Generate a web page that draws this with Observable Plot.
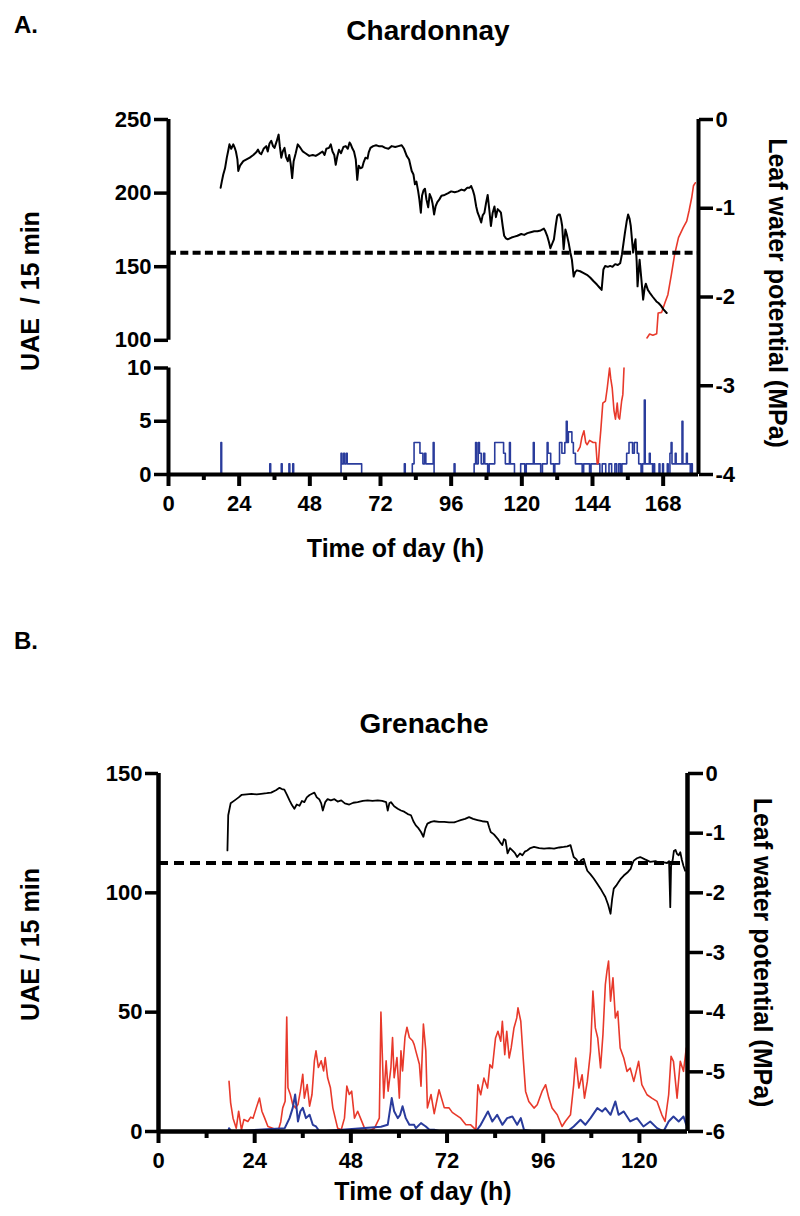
<!DOCTYPE html>
<html><head><meta charset="utf-8">
<script src="https://cdn.jsdelivr.net/npm/d3@7"></script>
<script src="https://cdn.jsdelivr.net/npm/@observablehq/plot@0.6"></script>
<style>
body{margin:0;background:#fff;}
#wrap{position:relative;width:800px;height:1216px;font-family:"Liberation Sans",Arial,sans-serif;font-weight:bold;color:#000;}
.lbl{position:absolute;white-space:nowrap;line-height:normal;}
</style></head><body><div id="wrap">
<div id="pa" style="position:absolute;left:0;top:0"></div>
<div id="pb" style="position:absolute;left:0;top:600px"></div>
<div class="lbl" style="left:14px;top:11px;font-size:24px">A.</div>
<div class="lbl" style="left:428px;top:15px;font-size:28px;transform:translateX(-50%)">Chardonnay</div>
<div class="lbl" style="left:14px;top:627px;font-size:24px">B.</div>
<div class="lbl" style="left:424px;top:708px;font-size:28px;transform:translateX(-50%)">Grenache</div>
</div>
<script>
// ---------- Panel A: Chardonnay ----------
const chardXMajor = [0, 24, 48, 72, 96, 120, 144, 168];
const chardXMinor = [12, 36, 60, 84, 108, 132, 156];
const chardLeftTop = [100, 150, 200, 250];
const chardLeftBottom = [0, 5, 10];
const chardRight = [0, -1, -2, -3, -4];
const chardThreshold = -1.5;
// leaf water potential (MPa), [h, value]
const chardLwp = [[17.7,-0.77],[18.1,-0.70],[18.6,-0.62],[19.2,-0.55],[19.8,-0.43],[20.3,-0.35],[20.7,-0.28],[21.3,-0.33],[22.0,-0.28],[22.5,-0.32],[22.9,-0.36],[23.4,-0.45],[23.7,-0.58],[24.3,-0.52],[25.4,-0.47],[26.5,-0.45],[27.6,-0.43],[28.8,-0.40],[29.8,-0.37],[30.4,-0.34],[31.0,-0.38],[31.5,-0.39],[32.3,-0.33],[33.2,-0.30],[33.7,-0.36],[34.3,-0.27],[34.9,-0.24],[35.5,-0.30],[36.0,-0.32],[36.7,-0.25],[37.4,-0.17],[37.8,-0.30],[38.3,-0.43],[38.8,-0.36],[39.4,-0.32],[39.9,-0.42],[40.5,-0.47],[41.0,-0.40],[41.5,-0.50],[42.0,-0.66],[42.5,-0.47],[43.2,-0.38],[43.9,-0.28],[44.6,-0.31],[45.6,-0.36],[46.5,-0.38],[47.8,-0.41],[49.0,-0.40],[50.0,-0.41],[51.0,-0.39],[52.3,-0.36],[53.0,-0.40],[53.6,-0.33],[54.5,-0.32],[55.1,-0.28],[55.7,-0.36],[56.3,-0.40],[56.8,-0.51],[57.3,-0.42],[57.9,-0.34],[58.6,-0.38],[59.4,-0.31],[60.2,-0.30],[60.9,-0.33],[61.5,-0.26],[61.9,-0.28],[62.5,-0.33],[63.0,-0.36],[63.6,-0.45],[64.1,-0.68],[64.6,-0.52],[65.2,-0.55],[65.8,-0.54],[66.3,-0.48],[66.9,-0.43],[67.6,-0.44],[68.0,-0.37],[68.6,-0.32],[69.5,-0.30],[70.5,-0.29],[71.4,-0.30],[72.5,-0.30],[73.6,-0.32],[74.7,-0.33],[75.8,-0.30],[77.0,-0.31],[78.1,-0.30],[79.2,-0.29],[80.0,-0.33],[80.9,-0.41],[81.7,-0.45],[82.6,-0.58],[83.2,-0.62],[83.7,-0.73],[84.2,-0.70],[84.8,-0.81],[85.2,-0.90],[85.7,-1.05],[86.1,-0.86],[86.6,-0.80],[87.1,-0.78],[87.6,-0.90],[88.2,-0.99],[88.7,-0.84],[89.3,-0.89],[89.7,-0.95],[90.2,-1.07],[90.7,-0.98],[91.3,-0.93],[92.0,-0.90],[92.7,-0.86],[93.8,-0.85],[95.0,-0.83],[96.0,-0.81],[97.2,-0.82],[98.3,-0.81],[99.5,-0.79],[100.5,-0.80],[101.4,-0.77],[102.2,-0.77],[102.8,-0.75],[103.4,-0.80],[103.9,-0.86],[104.5,-0.98],[105.0,-1.05],[105.6,-1.10],[106.2,-1.16],[106.7,-1.08],[107.3,-1.05],[107.8,-0.95],[108.4,-0.85],[108.9,-1.00],[109.5,-1.20],[110.1,-1.05],[110.7,-0.98],[111.2,-1.10],[111.8,-1.01],[112.4,-1.03],[112.9,-1.05],[113.5,-1.20],[114.0,-1.31],[114.6,-1.34],[115.2,-1.35],[116.5,-1.33],[117.5,-1.32],[118.5,-1.31],[119.8,-1.29],[120.8,-1.30],[121.9,-1.28],[123.0,-1.27],[124.2,-1.26],[125.3,-1.26],[126.4,-1.25],[127.5,-1.23],[128.0,-1.26],[128.6,-1.31],[129.2,-1.38],[129.7,-1.45],[130.3,-1.40],[130.9,-1.35],[131.5,-1.20],[132.0,-1.09],[132.5,-1.07],[132.9,-1.07],[133.3,-1.12],[133.7,-1.20],[134.2,-1.46],[134.8,-1.24],[135.3,-1.30],[135.9,-1.39],[136.5,-1.50],[137.0,-1.58],[137.6,-1.77],[138.1,-1.72],[138.7,-1.70],[139.8,-1.71],[141.0,-1.73],[142.1,-1.75],[143.2,-1.78],[144.3,-1.82],[145.5,-1.86],[146.3,-1.89],[147.1,-1.92],[147.7,-1.69],[148.3,-1.65],[149.2,-1.66],[150.0,-1.65],[150.8,-1.66],[151.7,-1.63],[152.6,-1.64],[153.4,-1.62],[154.0,-1.52],[154.5,-1.40],[155.0,-1.28],[155.6,-1.15],[156.1,-1.07],[156.6,-1.12],[157.0,-1.20],[157.4,-1.35],[157.8,-1.50],[158.2,-1.42],[158.6,-1.35],[159.0,-1.60],[159.3,-1.88],[159.7,-1.70],[160.0,-1.58],[160.6,-1.80],[161.2,-2.03],[161.7,-1.90],[162.1,-1.85],[162.8,-1.92],[163.4,-1.95],[164.5,-2.00],[165.7,-2.05],[166.5,-2.07],[167.3,-2.10],[168.1,-2.14],[169.2,-2.18]];
// UAE / 15 min (red), gap where it runs through the axis break
const chardRed = [[139.0,2.2],[139.8,2.6],[140.4,3.5],[141.1,4.1],[141.7,3.0],[142.2,2.8],[143.0,3.2],[144.2,3.0],[145.1,3.0],[145.6,1.0],[146.0,1.1],[146.4,2.8],[146.8,4.1],[147.5,6.7],[148.4,6.9],[149.0,8.1],[149.8,10],[150.2,9.0],[150.7,8.1],[151.3,6.0],[151.8,5.2],[152.4,6.7],[152.8,5.4],[153.2,5.2],[153.9,6.9],[154.3,7.5],[154.7,10],[158.0,NaN],[162.5,101.6],[163.4,104.3],[164.5,103.5],[165.8,104.5],[166.3,118.6],[167.5,119.0],[168.6,125.5],[169.6,131.0],[170.8,144.8],[171.9,158.4],[173.2,169.8],[174.8,176.6],[176.0,181.0],[176.8,188.0],[177.7,197.0],[178.3,205.0],[178.9,207.0]];
// UAE / 15 min (blue), step data
const chardBlue = [[17.6,0],[17.8,3],[18.05,0],[34.4,1],[34.7,0],[38.3,1],[38.6,0],[40.9,1],[41.2,0],[42.2,1],[42.5,0],[58.6,2],[58.9,1],[59.5,2],[59.8,1],[60.4,2],[60.7,1],[65.6,0],[80.1,1],[80.4,0],[82.8,1],[83.4,3],[85.4,2],[86.4,1],[87.0,2],[87.4,1],[89.9,3],[90.2,0],[97.0,1],[97.3,0],[103.8,1],[104.3,3],[104.6,1],[105.2,3],[105.6,2],[106.2,1],[107.0,2],[107.4,1],[108.4,0],[108.9,1],[110.8,3],[113.8,2],[114.4,1],[115.8,3],[116.1,1],[117.5,0],[119.6,1],[121.0,0],[121.5,1],[123.9,3],[124.2,1],[126.4,0],[127.0,1],[128.6,3],[128.9,2],[129.8,1],[130.8,0],[131.2,1],[132.8,3],[133.6,2],[134.6,3],[135.1,5],[135.4,3],[135.8,4],[136.4,4],[137.0,3],[137.5,2],[138.2,1],[140.5,0],[141.0,1],[143.0,0],[143.5,1],[146.5,0],[147.3,1],[148.5,0],[149.6,1],[150.5,0],[151.6,1],[152.2,0],[152.9,1],[153.5,0],[154.0,1],[155.6,2],[156.4,3],[157.6,2],[158.2,3],[159.2,2],[159.7,1],[160.5,0],[161.0,1],[161.6,7],[161.9,1],[163.3,2],[163.6,1],[164.4,0],[164.8,1],[165.1,0],[166.6,1],[166.9,0],[167.8,1],[168.1,0],[169.4,1],[169.7,0],[170.3,2],[170.7,3],[171.0,1],[172.1,2],[172.4,1],[174.4,5],[174.7,1],[175.9,2],[176.2,1],[177.2,0],[177.6,1],[177.9,0]];

// ---------- Panel B: Grenache ----------
const grenXMajor = [0, 24, 48, 72, 96, 120];
const grenXMinor = [12, 36, 60, 84, 108];
const grenLeft = [0, 50, 100, 150];
const grenRight = [0, -1, -2, -3, -4, -5, -6];
const grenThreshold = -1.5;
const grenLwp = [[17.2,-1.29],[17.4,-0.70],[18.0,-0.50],[19.0,-0.45],[20.0,-0.40],[20.7,-0.36],[22.0,-0.35],[23.2,-0.34],[24.5,-0.35],[25.6,-0.34],[27.0,-0.33],[28.1,-0.32],[29.3,-0.28],[30.2,-0.24],[30.8,-0.26],[31.4,-0.27],[32.0,-0.35],[32.7,-0.45],[33.3,-0.53],[33.9,-0.59],[34.5,-0.52],[35.2,-0.54],[35.8,-0.46],[36.4,-0.48],[37.0,-0.40],[37.7,-0.36],[38.3,-0.34],[38.9,-0.32],[39.5,-0.40],[40.1,-0.43],[40.6,-0.50],[41.0,-0.62],[41.6,-0.48],[42.2,-0.43],[43.0,-0.45],[43.9,-0.43],[44.7,-0.47],[45.6,-0.45],[46.5,-0.50],[47.6,-0.52],[48.6,-0.49],[49.7,-0.48],[51.0,-0.46],[52.2,-0.45],[53.4,-0.46],[54.7,-0.45],[55.8,-0.46],[56.8,-0.48],[57.2,-0.62],[57.6,-0.50],[58.0,-0.48],[58.8,-0.55],[59.7,-0.59],[60.5,-0.62],[61.3,-0.64],[62.2,-0.68],[63.0,-0.70],[63.6,-0.80],[64.2,-0.87],[64.9,-0.92],[65.5,-0.98],[66.1,-1.06],[66.6,-0.92],[67.1,-0.84],[68.0,-0.81],[68.8,-0.80],[70.0,-0.81],[71.3,-0.81],[72.5,-0.82],[73.8,-0.82],[74.6,-0.80],[75.4,-0.78],[76.5,-0.76],[77.5,-0.73],[78.5,-0.76],[79.6,-0.78],[80.8,-0.80],[82.1,-0.81],[82.5,-0.90],[82.9,-0.98],[83.7,-1.02],[84.6,-1.09],[85.2,-1.15],[85.8,-1.20],[86.2,-1.10],[86.6,-1.12],[87.1,-1.34],[87.7,-1.25],[88.3,-1.29],[88.9,-1.33],[89.5,-1.40],[90.2,-1.34],[90.8,-1.37],[91.4,-1.31],[92.0,-1.29],[92.8,-1.25],[93.7,-1.23],[95.0,-1.25],[96.2,-1.26],[97.5,-1.25],[98.7,-1.26],[100.0,-1.24],[101.1,-1.23],[102.0,-1.22],[102.8,-1.20],[103.2,-1.30],[103.6,-1.40],[104.3,-1.44],[104.9,-1.51],[105.5,-1.45],[106.1,-1.43],[106.6,-1.55],[107.0,-1.63],[107.8,-1.69],[108.6,-1.76],[109.4,-1.84],[110.3,-1.93],[110.9,-2.00],[111.5,-2.07],[112.2,-2.20],[112.8,-2.35],[113.2,-2.10],[113.6,-1.93],[114.2,-1.88],[114.8,-1.82],[115.4,-1.76],[116.1,-1.71],[117.0,-1.66],[117.8,-1.60],[118.2,-1.52],[118.6,-1.46],[119.4,-1.42],[120.2,-1.40],[121.4,-1.44],[122.7,-1.48],[124.0,-1.47],[125.2,-1.50],[126.1,-1.49],[126.9,-1.50],[127.4,-1.47],[127.7,-2.24],[127.9,-1.55],[128.3,-1.45],[128.6,-1.30],[129.0,-1.28],[129.4,-1.35],[129.8,-1.37],[130.2,-1.32],[130.6,-1.45],[131.0,-1.55],[131.4,-1.63]];
const grenRed = [[17.6,21],[18.0,12],[18.6,5.6],[19.4,1.4],[20.0,8.5],[20.7,0.7],[21.3,5],[22.3,4.2],[23.0,6],[23.6,5.6],[24.4,9.9],[25.2,14],[25.8,8.5],[26.5,5.6],[27.3,2.1],[28.5,1.4],[29.8,0],[30.5,4],[31.0,9.9],[31.6,12.7],[32.0,48],[32.3,18.3],[32.9,15.5],[33.5,11.3],[34.2,9.9],[34.8,11.3],[35.4,16.9],[36.0,24],[36.4,14],[37.1,19.7],[37.7,10.6],[38.3,15.5],[38.9,29.6],[39.3,33.8],[39.9,26.8],[40.6,29.6],[41.2,25.4],[41.6,31],[42.2,22.5],[42.9,18.3],[43.5,9.9],[44.1,5.6],[44.7,1.4],[45.6,0.7],[46.4,5.6],[47.0,19],[47.6,15.5],[48.2,16.9],[48.9,5.6],[49.7,8.5],[50.4,5.6],[51.4,1.4],[52.2,0],[53.9,1.4],[55.1,5.6],[55.5,50],[56.2,14],[56.8,29.6],[57.3,16.9],[58.0,26.8],[58.4,39.4],[58.8,22.5],[59.5,31],[60.1,14],[60.5,33.8],[60.9,25.4],[61.5,39.4],[62.0,43.7],[62.6,39.4],[63.4,38],[63.8,36.4],[64.2,33.8],[65.1,28.2],[65.5,19],[66.1,45],[66.7,33.8],[67.1,9.9],[68.0,15.5],[68.8,7.5],[70.0,17.5],[71.3,10],[72.5,9.9],[73.3,8],[74.2,7],[75.4,5.6],[76.7,2.8],[77.9,2.8],[79.2,0.7],[79.7,19.6],[80.4,15.4],[81.2,22.4],[82.1,18.2],[82.7,28],[83.3,26.6],[84.1,39.2],[84.7,42],[85.4,37.8],[85.8,46.2],[86.4,32.2],[86.9,42],[87.5,30.8],[88.0,35],[88.7,43.4],[89.4,47.6],[89.7,51.8],[90.4,46.2],[91.0,30.8],[91.6,16.8],[92.4,12.6],[93.7,9.8],[94.5,11.2],[95.7,16.8],[96.6,19.6],[97.4,14],[98.2,9.8],[99.5,7],[100.7,2.1],[101.5,4.2],[102.8,7],[103.6,19.6],[104.1,30.8],[104.9,18.2],[105.7,23.8],[106.3,14],[107.0,21],[107.8,33.6],[108.4,58.8],[109.0,43.4],[109.6,39.2],[110.3,26.6],[110.9,40.6],[111.5,61.6],[111.9,67.2],[112.3,71.4],[112.8,54.6],[113.4,64.4],[114.0,47.6],[114.6,50.4],[115.2,35],[116.1,30.8],[116.9,25.2],[117.7,26.6],[118.6,21],[119.8,29.4],[120.6,19.6],[121.9,15.4],[123.1,14],[124.4,12.6],[125.6,7],[126.4,4.2],[127.3,15.4],[127.9,31.5],[128.5,29.4],[129.4,14],[130.2,29.4],[131.0,25.2],[131.7,35]];
const grenBlue = [[17.4,0],[17.6,1.4],[18.2,0],[31.5,1.4],[32.7,5.6],[33.5,9.9],[34.1,15.5],[34.8,4.2],[35.4,8.5],[36.0,9.9],[36.8,5.6],[37.7,7],[38.5,2.8],[39.3,2.1],[40.2,0],[55.5,2],[57.2,2.8],[58.2,14],[58.8,8.5],[59.7,5.6],[60.3,7],[60.9,10.6],[61.7,5.6],[62.6,2.8],[63.8,2.8],[64.2,1.4],[65.5,3.5],[66.7,2.1],[67.6,0.7],[68.8,0.7],[70.5,0],[79.2,0],[80.4,2.8],[82.2,8.4],[83.3,4.2],[84.5,7],[85.8,2.8],[87.0,5.6],[88.3,6.3],[89.5,2.8],[90.4,5.6],[91.2,0.7],[93.7,0],[102.0,0],[103.6,2.1],[105.3,4.9],[106.5,2.8],[107.8,5.6],[109.5,9.8],[110.7,8.4],[111.5,9.8],[112.8,7],[114.0,12.6],[114.8,7],[116.1,8.4],[117.7,4.2],[119.4,5.6],[121.0,2.1],[122.7,4.2],[124.4,1.4],[126.0,0],[127.3,4.2],[128.5,6.3],[129.8,4.2],[131.0,6.3],[131.7,2.8]];

const xTitle = "Time of day (h)";
const yTitleA = "UAE\u00a0 / 15 min";
const yTitleB = "UAE / 15 min";
const y2Title = "Leaf water potential (MPa)";

// ---------- rendering ----------
const RED = "#e8392b", BLUE = "#2a3c9c";
const FONT = "'Liberation Sans', Arial, sans-serif";
const fmt = d => String(d);
const hx = d => d[0], hv = d => d[1];

// Panel A: y scale in MPa; UAE mapped through a broken (piecewise) axis
const lwpA = [d3.min(chardRight), d3.max(chardRight)];
const breakFrac = [0, 0.30, 0.378, 1];
const uaeBreaks = [d3.min(chardLeftBottom), d3.max(chardLeftBottom), d3.min(chardLeftTop), d3.max(chardLeftTop)];
const uaeA = d3.scaleLinear().domain(uaeBreaks).range(breakFrac.map(f => lwpA[0] + f * (lwpA[1] - lwpA[0])));
const xDomA = [0, 180];
const leftSegA = [chardLeftTop, chardLeftBottom].map(t => ({lo: d3.min(t), hi: d3.max(t)}));

const plotA = Plot.plot({
  width: 800, height: 600,
  marginTop: 119, marginBottom: 126, marginLeft: 168, marginRight: 102,
  x: {domain: xDomA, axis: null},
  y: {domain: lwpA, axis: null},
  style: {fontFamily: FONT, fontWeight: "bold", fontSize: "22px", color: "black", background: "white"},
  marks: [
    Plot.line(chardBlue, {x: hx, y: d => uaeA(d[1]), curve: "step-after", stroke: BLUE, strokeWidth: 1.6}),
    Plot.line(chardRed, {x: hx, y: d => uaeA(d[1]), stroke: RED, strokeWidth: 1.6}),
    Plot.line(chardLwp, {x: hx, y: hv, stroke: "black", strokeWidth: 2}),
    Plot.ruleY([chardThreshold], {stroke: "black", strokeWidth: 4, strokeDasharray: "8,4.3"}),
    Plot.ruleY([lwpA[0]], {stroke: "black", strokeWidth: 4}),
    Plot.ruleX(leftSegA, {x: () => xDomA[0], y1: d => uaeA(d.lo), y2: d => uaeA(d.hi), stroke: "black", strokeWidth: 4}),
    Plot.ruleX([xDomA[1]], {y1: lwpA[0], y2: lwpA[1], stroke: "black", strokeWidth: 4}),
    Plot.axisX(chardXMajor, {anchor: "bottom", tickSize: 12, tickPadding: 9, strokeWidth: 4, tickFormat: fmt, label: null, fontSize: 22}),
    Plot.axisX(chardXMinor, {anchor: "bottom", tickSize: 6, strokeWidth: 4, tickFormat: () => "", label: null}),
    Plot.axisY([...chardLeftTop, ...chardLeftBottom], {anchor: "left", y: d => uaeA(d), text: fmt, tickSize: 14, tickPadding: 3, strokeWidth: 3.5, label: null, fontSize: 22}),
    Plot.axisY(chardRight, {anchor: "right", tickSize: 14, tickPadding: 3, strokeWidth: 3.5, tickFormat: fmt, label: null, fontSize: 22}),
    Plot.text([xTitle], {frameAnchor: "bottom", textAnchor: "middle", dx: -38, dy: 82, fontSize: 25}),
    Plot.text([yTitleA], {frameAnchor: "left", textAnchor: "middle", rotate: -90, dx: -138, dy: -6, fontSize: 25}),
    Plot.text([y2Title], {frameAnchor: "right", textAnchor: "middle", rotate: 90, dx: 78, dy: -4, fontSize: 25})
  ]
});
document.getElementById("pa").append(plotA);

// Panel B: y scale in MPa; UAE mapped linearly onto it
const lwpB = [d3.min(grenRight), d3.max(grenRight)];
const uaeB = d3.scaleLinear().domain(d3.extent(grenLeft)).range(lwpB);
const xDomB = [0, 132];
const plotB = Plot.plot({
  width: 800, height: 616,
  marginTop: 173, marginBottom: 85, marginLeft: 158, marginRight: 113,
  x: {domain: xDomB, axis: null},
  y: {domain: lwpB, axis: null},
  style: {fontFamily: FONT, fontWeight: "bold", fontSize: "22px", color: "black", background: "white"},
  marks: [
    Plot.line(grenRed, {x: hx, y: d => uaeB(d[1]), stroke: RED, strokeWidth: 1.6}),
    Plot.line(grenBlue, {x: hx, y: d => uaeB(d[1]), stroke: BLUE, strokeWidth: 2}),
    Plot.line(grenLwp, {x: hx, y: hv, stroke: "black", strokeWidth: 1.8}),
    Plot.ruleY([grenThreshold], {stroke: "black", strokeWidth: 4, strokeDasharray: "10,6"}),
    Plot.ruleY([lwpB[0]], {stroke: "black", strokeWidth: 4.5}),
    Plot.ruleX([xDomB[0]], {y1: lwpB[0], y2: lwpB[1], stroke: "black", strokeWidth: 4.5}),
    Plot.ruleX([xDomB[1]], {y1: lwpB[0], y2: lwpB[1], stroke: "black", strokeWidth: 4.5}),
    Plot.axisX(grenXMajor, {anchor: "bottom", tickSize: 12, tickPadding: 9, strokeWidth: 4, tickFormat: fmt, label: null, fontSize: 22}),
    Plot.axisX(grenXMinor, {anchor: "bottom", tickSize: 7, strokeWidth: 4, tickFormat: () => "", label: null}),
    Plot.axisY(grenLeft, {anchor: "left", y: d => uaeB(d), text: fmt, tickSize: 13, tickPadding: 3, strokeWidth: 3.5, label: null, fontSize: 22}),
    Plot.axisY(grenRight, {anchor: "right", tickSize: 15, tickPadding: 3, strokeWidth: 3.5, tickFormat: fmt, label: null, fontSize: 22}),
    Plot.text([xTitle], {frameAnchor: "bottom", textAnchor: "middle", dy: 68, fontSize: 25}),
    Plot.text([yTitleB], {frameAnchor: "left", textAnchor: "middle", rotate: -90, dx: -128, dy: -8, fontSize: 25}),
    Plot.text([y2Title], {frameAnchor: "right", textAnchor: "middle", rotate: 90, dx: 74, fontSize: 25})
  ]
});
document.getElementById("pb").append(plotB);
</script>
</body></html>
